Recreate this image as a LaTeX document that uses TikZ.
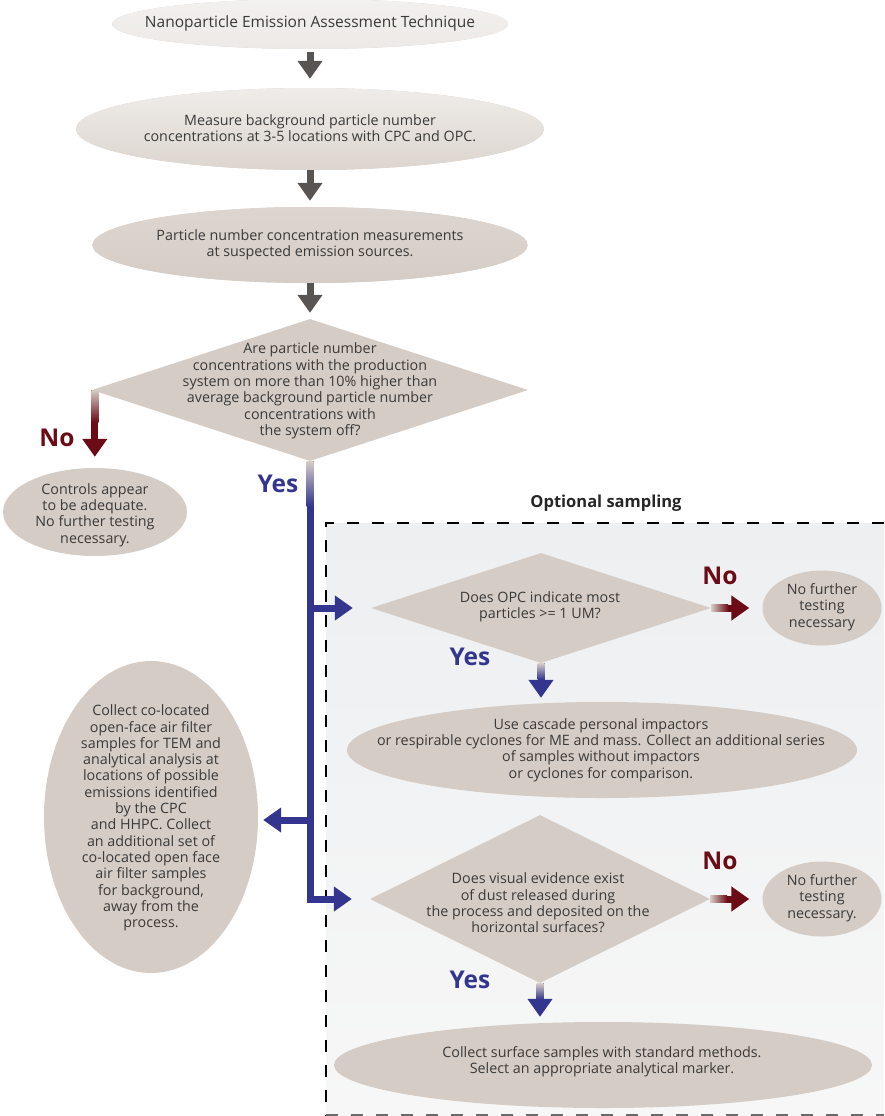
\documentclass[tikz,border=0pt]{standalone}
\usepackage{fontspec}
\setmainfont{Open Sans}
\usetikzlibrary{shapes.geometric,arrows.meta,calc}
\definecolor{beige}{HTML}{D5CCC5}
\definecolor{txtc}{HTML}{3A3A3A}
\definecolor{arrgray}{HTML}{575452}
\definecolor{dblue}{HTML}{34358F}
\definecolor{dred}{HTML}{6B0B16}
\definecolor{eonetop}{HTML}{F3F1EF}
\definecolor{eonebot}{HTML}{ECE9E6}
\definecolor{etwotop}{HTML}{EFECE9}
\definecolor{etwobot}{HTML}{DCD5CF}
\definecolor{ethreetop}{HTML}{DDD6D0}
\definecolor{boxtop}{HTML}{EDEFF1}
\definecolor{boxbot}{HTML}{F7F7F7}
\definecolor{dashgray}{HTML}{6A6A6A}
\begin{document}
\begin{tikzpicture}[x=1pt,y=-1pt,
  oval/.style={ellipse, inner sep=0pt, draw=none, fill=beige},
  dia/.style={diamond, inner sep=0pt, draw=none, fill=beige},
  txt/.style={inner sep=0pt, align=center, text=txtc, font=\fontsize{14.3}{16.3}\selectfont},
  arr/.style={line width=7pt, -{Triangle[width=24pt,length=18pt]}},
  grayarr/.style={arr, draw=arrgray},
  bluearr/.style={arr, draw=dblue},
  redarr/.style={arr, draw=dred},
  nolbl/.style={inner sep=0pt, text=dred, font=\fontsize{24.5}{24.5}\selectfont\bfseries},
  yeslbl/.style={inner sep=0pt, text=dblue, font=\fontsize{24.5}{24.5}\selectfont\bfseries},
  boxdash/.style={dash pattern=on 12pt off 13pt},
]
\useasboundingbox (0,0) rectangle (884,1116);

% optional sampling box
\shade[top color=boxtop, bottom color=boxbot] (326,523) rectangle (884,1116);
\draw[line width=2.5pt, boxdash] (884,523) -- (326,523) -- (326,1116);
\draw[line width=2pt, dashgray, boxdash] (326,1115) -- (884,1115);
\node[inner sep=0pt, text=black!85, font=\fontsize{16.5}{16.5}\selectfont\bfseries] (opt) at (606,503) {Optional sampling};

% main column
\node[oval, top color=eonetop, bottom color=eonebot, minimum width=396pt, minimum height=50pt] (e1) at (310,24) {};
\node[txt, font=\fontsize{15.5}{17}\selectfont] (t1) at (310,23) {Nanoparticle Emission Assessment Technique};

\node[oval, top color=etwotop, bottom color=etwobot, minimum width=468pt, minimum height=82pt] (e2) at (310,129) {};
\node[txt] (t2) at (310,128) {Measure background particle number\\concentrations at 3-5 locations with CPC and OPC.};

\node[oval, top color=ethreetop, bottom color=beige, minimum width=435pt, minimum height=76pt] (e3) at (310,245) {};
\node[txt] (t3) at (310,245) {Particle number concentration measurements\\at suspected emission sources.};

\node[dia, minimum width=436pt, minimum height=142pt] (d1) at (310,390) {};
\node[txt] (td1) at (310,391) {Are particle number\\concentrations with the production\\system on more than 10\% higher than\\average background particle number\\concentrations with\\the system off?};

\node[oval, minimum width=184pt, minimum height=88pt] (c1) at (95,512) {};
\node[txt] (tc1) at (95,515) {Controls appear\\to be adequate.\\No further testing\\necessary.};

\node[oval, minimum width=214pt, minimum height=312pt] (L) at (151,817) {};
\node[txt] (tL) at (151,818) {Collect co-located\\open-face air filter\\samples for TEM and\\analytical analysis at\\locations of possible\\emissions identified\\by the CPC\\and HHPC. Collect\\an additional set of\\co-located open face\\air filter samples\\for background,\\away from the\\process.};

% optional branch
\node[dia, minimum width=340pt, minimum height=110pt] (d2) at (541,608) {};
\node[txt] (td2) at (540,607) {Does OPC indicate most\\particles >= 1 UM?};

\node[oval, minimum width=119pt, minimum height=75pt] (r2) at (822,608) {};
\node[txt] (tr2) at (822,607) {No further\\testing\\necessary};

\node[oval, minimum width=510pt, minimum height=96pt] (e4) at (602,750) {};
\node[txt] (t4) at (601,750) {Use cascade personal impactors\\or respirable cyclones for ME and mass. Collect an additional series\\of samples without impactors\\or cyclones for comparison.};

\node[dia, minimum width=340pt, minimum height=168pt] (d3) at (540,899) {};
\node[txt] (td3) at (538,903) {Does visual evidence exist\\of dust released during\\the process and deposited on the\\horizontal surfaces?};

\node[oval, minimum width=119pt, minimum height=75pt] (r3) at (822,899) {};
\node[txt] (tr3) at (822,898) {No further\\testing\\necessary.};

\node[oval, minimum width=538pt, minimum height=86pt] (e5) at (603,1065) {};
\node[txt] (t5) at (602,1062) {Collect surface samples with standard methods.\\Select an appropriate analytical marker.};

% gray arrows
\draw[grayarr, shorten <=3pt, shorten >=9pt] (e1.south) -- (e2.north);
\draw[grayarr, shorten >=6pt] (e2.south) -- (e3.north);
\draw[grayarr, shorten >=6pt] (e3.south) -- (d1.north);

% No from d1
\coordinate (n1s) at ([xshift=3pt]d1.west);
\draw[redarr, shorten >=11pt] (n1s) -- (n1s |- c1.north);
\shade[top color=beige, bottom color=dred] ([xshift=-3.5pt]n1s) rectangle ([xshift=3.5pt,yshift=-32pt]n1s);
\node[nolbl] (no1) at (57,438) {No};

% Yes trunk
\coordinate (jA) at (d1.south |- d2.west);
\coordinate (jL) at (310,820);
\draw[bluearr, shorten >=18pt] (d1.south) |- (d3.west);
\draw[bluearr, shorten >=18pt] (jA) -- (d2.west);
\draw[bluearr, shorten >=5pt] (jL) -- (jL -| L.east);
\shade[top color=beige, bottom color=dblue] ([xshift=-3.5pt]d1.south) rectangle ([xshift=3.5pt,yshift=-45pt]d1.south);
\node[yeslbl] (yes1) at (278,484) {Yes};

% d2 branches
\draw[redarr, shorten >=13pt] (d2.east) -- (r2.west);
\shade[left color=beige, right color=dred] ([yshift=3.5pt]d2.east) rectangle ([xshift=17pt,yshift=-3.5pt]d2.east);
\node[nolbl] (no2) at (720,576) {No};
\draw[bluearr, shorten >=4pt] (d2.south) -- (d2.south |- e4.north);
\shade[top color=beige, bottom color=dblue] ([xshift=-3.5pt]d2.south) rectangle ([xshift=3.5pt,yshift=-16pt]d2.south);
\node[yeslbl] (yes2) at (470,657) {Yes};

% d3 branches
\draw[redarr, shorten >=13pt] (d3.east) -- (r3.west);
\shade[left color=beige, right color=dred] ([yshift=3.5pt]d3.east) rectangle ([xshift=17pt,yshift=-3.5pt]d3.east);
\node[nolbl] (no3) at (720,861) {No};
\draw[bluearr, shorten >=5pt] (d3.south) -- (d3.south |- e5.north);
\shade[top color=beige, bottom color=dblue] ([xshift=-3.5pt]d3.south) rectangle ([xshift=3.5pt,yshift=-16pt]d3.south);
\node[yeslbl] (yes3) at (470,980) {Yes};
\end{tikzpicture}
\end{document}
